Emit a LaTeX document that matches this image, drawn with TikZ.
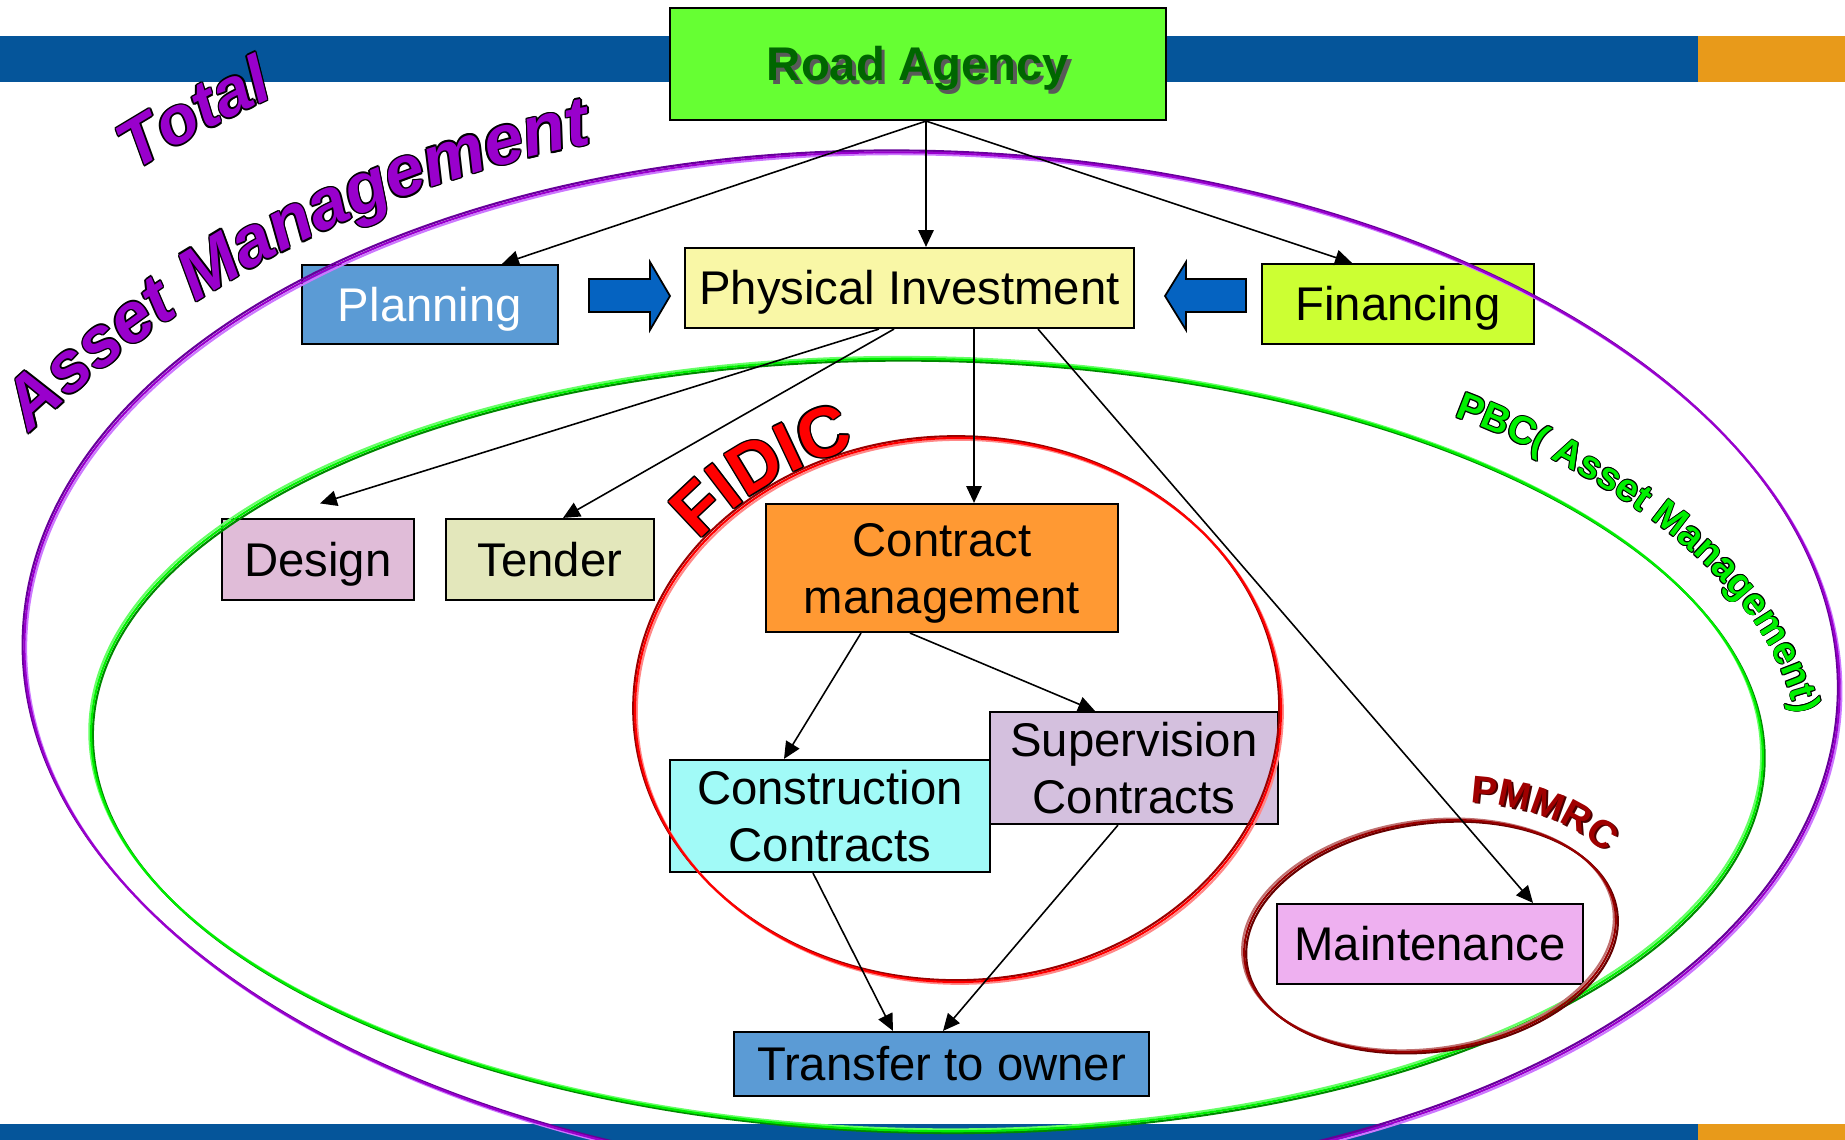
\documentclass[tikz,border=0pt]{standalone}
\usepackage{fontspec}
\setmainfont{Liberation Sans}
\usetikzlibrary{arrows.meta,calc,decorations.text}

\definecolor{barblue}{HTML}{05559A}
\definecolor{barorange}{HTML}{E89A1A}
\definecolor{raGreen}{HTML}{66FF33}
\definecolor{raText}{HTML}{006600}
\definecolor{piYellow}{HTML}{F9F7A6}
\definecolor{planBlue}{HTML}{5B9BD5}
\definecolor{finGreen}{HTML}{CCFF33}
\definecolor{desPink}{HTML}{E0BCD8}
\definecolor{tenOlive}{HTML}{E3E7BB}
\definecolor{cmOrange}{HTML}{FF9933}
\definecolor{supLilac}{HTML}{D4C0DE}
\definecolor{conCyan}{HTML}{A1FAF7}
\definecolor{mntPink}{HTML}{EEB0F0}
\definecolor{arrowBlue}{HTML}{0563C1}
\definecolor{amPurple}{HTML}{9900CC}
\definecolor{purDark}{HTML}{660099}
\definecolor{purLight}{HTML}{CC77FF}
\definecolor{grLight}{HTML}{66FF66}
\definecolor{grMid}{HTML}{00EE00}
\definecolor{grDark}{HTML}{008800}
\definecolor{rdDark}{HTML}{990000}
\definecolor{rdMid}{HTML}{FF0000}
\definecolor{rdLight}{HTML}{FF8888}
\definecolor{pmLight}{HTML}{C07070}
\definecolor{pmMid}{HTML}{990000}
\definecolor{pmDark}{HTML}{660000}
\definecolor{pbcGreen}{HTML}{00F000}
\definecolor{pmText}{HTML}{A00000}
\definecolor{pmShadow}{HTML}{4A0000}

\tikzset{
  box/.style={draw=black, line width=0.6pt, inner sep=0pt, align=center,
    font=\fontsize{13.45}{16.1}\selectfont},
  oneline/.style={text height=9.63pt, text depth=0pt},
  twoline/.style={text height=25.73pt, text depth=0pt},
  conn/.style={draw=black, line width=0.45pt, -{Triangle[length=4.8pt,width=4.4pt]}},
  blockarrow/.style={fill=arrowBlue, draw=black, line width=0.5pt},
  ell/.style={line width=0.6pt},
}

\newcommand\twolines[2]{\begin{tabular}[b]{@{}c@{}}#1\\#2\end{tabular}}

\newcommand\triell[8]{%
  \begin{scope}[rotate around={#5:(#1,#2)}]
    \draw[#6, ell] ({#1-1.8},{#2+1.8}) ellipse[x radius=#3, y radius=#4];
    \draw[#8, ell] ({#1+1.8},{#2-1.8}) ellipse[x radius=#3, y radius=#4];
    \draw[#7, ell] (#1,#2) ellipse[x radius=#3, y radius=#4];
  \end{scope}}

\newcommand\wordart[5]{%
  \foreach \wdx/\wdy in {1/0,-1/0,0/1,0/-1,0.7/0.7,-0.7/0.7,0.7/-0.7,-0.7/-0.7}{%
    \path[#3, shift={({#5*(\wdx)},{#5*(\wdy)})}, decorate,
      decoration={text along path, text align=center, text={|#1\color{black}|#2}}] #4;
  }%
  \path[#3, decorate, decoration={text along path, text align=center, text={|#1|#2}}] #4;
}

\begin{document}
\begin{tikzpicture}[x=0.01cm, y=0.01cm]
\useasboundingbox (0,0) rectangle (1845,-1140);
\clip (0,0) rectangle (1845,-1140);

% bars
\fill[barblue] (0,-36) rectangle (1698,-82);
\fill[barorange] (1698,-36) rectangle (1845,-82);
\fill[barblue] (0,-1124) rectangle (1698,-1140);
\fill[barorange] (1698,-1124) rectangle (1845,-1140);

% boxes
\node[box, oneline, fill=raGreen, minimum width=4.96cm, minimum height=1.12cm] (ra) at (918,-64)
  {\bfseries\makebox[0pt][l]{\hspace{1pt}\raisebox{-1pt}{\color{black!65}Road Agency}}\color{raText}Road Agency};
\node[box, oneline, fill=piYellow, minimum width=4.49cm, minimum height=0.80cm] (pi) at (909.5,-288) {Physical Investment};
\node[box, oneline, fill=planBlue, text=white, minimum width=2.56cm, minimum height=0.79cm] (plan) at (430,-304.5) {Planning};
\node[box, oneline, fill=finGreen, minimum width=2.72cm, minimum height=0.80cm] (fin) at (1398,-304) {Financing};
\node[box, oneline, fill=desPink, minimum width=1.92cm, minimum height=0.81cm] (des) at (318,-559.5) {Design};
\node[box, oneline, fill=tenOlive, minimum width=2.08cm, minimum height=0.81cm] (ten) at (550,-559.5) {Tender};
\node[box, twoline, fill=cmOrange, minimum width=3.52cm, minimum height=1.28cm] (cm) at (942,-568) {\twolines{Contract}{management}};
\node[box, twoline, fill=supLilac, minimum width=2.88cm, minimum height=1.12cm] (sup) at (1134,-768) {\twolines{Supervision}{Contracts}};
\node[box, twoline, fill=conCyan, minimum width=3.20cm, minimum height=1.12cm] (con) at (830,-816) {\twolines{Construction}{Contracts}};
\node[box, oneline, fill=planBlue, minimum width=4.15cm, minimum height=0.64cm] (tr) at (941.5,-1064) {Transfer to owner};
\node[box, oneline, fill=mntPink, minimum width=3.06cm, minimum height=0.80cm] (mnt) at (1430,-944) {Maintenance};

% block arrows
\draw[blockarrow] (589,-279) -- (650,-279) -- (650,-262) -- (670,-296) -- (650,-330) -- (650,-312) -- (589,-312) -- cycle;
\draw[blockarrow] (1246,-279) -- (1186,-279) -- (1186,-262) -- (1165,-296) -- (1186,-330) -- (1186,-312) -- (1246,-312) -- cycle;

% ellipses
\triell{932}{-668}{908}{515}{-2}{purDark}{amPurple}{purLight}
\triell{927}{-745}{836}{386}{-1}{grLight}{grMid}{grDark}
\triell{958}{-710}{323}{272}{0}{rdDark}{rdMid}{rdLight}
\triell{1430}{-936}{187}{114}{8}{pmLight}{pmMid}{pmDark}

% connectors
\draw[conn] ($(ra.south)+(8,0)$) -- ($(plan.north)+(72,0)$);
\draw[conn] ($(ra.south)+(8,0)$) -- ($(pi.north)+(16.5,0)$);
\draw[conn] ($(ra.south)+(8,0)$) -- ($(fin.north)+(-46,0)$);
\draw[conn] ($(pi.south)+(-30.5,0)$) -- ($(des.north)+(2,14.5)$);
\draw[conn] ($(pi.south)+(-15.5,0)$) -- ($(ten.north)+(13,0)$);
\draw[conn] ($(pi.south)+(64.5,0)$) -- ($(cm.north)+(32,0)$);
\draw[conn] ($(pi.south)+(128.5,0)$) -- ($(mnt.north)+(103,0)$);
\draw[conn] ($(cm.south)+(-81,0)$) -- ($(con.north)+(-46,0)$);
\draw[conn] ($(cm.south)+(-32,0)$) -- ($(sup.north)+(-39,0)$);
\draw[conn] ($(con.south)+(-17,0)$) -- ($(tr.north)+(-48.5,0)$);
\draw[conn] ($(sup.south)+(-16,0)$) -- ($(tr.north)+(1.5,0)$);

% word art labels
\wordart{\fontsize{19}{23}\selectfont\bfseries\itshape\color{amPurple}}{Total}{}
  {(802,-1243) ++(128.3:1262) arc[start angle=128.3, end angle=108.3, radius=1262]}{1.6}
\wordart{\fontsize{20}{24}\selectfont\bfseries\itshape\color{amPurple}}{Asset Management}{}
  {(802,-1243) ++(137:1119) arc[start angle=137, end angle=97.4, radius=1119]}{1.6}
\wordart{\fontsize{20}{24}\selectfont\bfseries\color{rdMid}}{FIDIC}{}
  {(958,-710) ++(147:327 and 276) arc[start angle=147, end angle=104, x radius=327, y radius=276]}{1.5}
\wordart{\fontsize{11}{13}\selectfont\bfseries\color{pbcGreen}}{PBC( Asset Management)}{rotate around={-1:(927,-745)}}
  {(927,-745) ++(59:873 and 421) arc[start angle=59, end angle=-4, x radius=873, y radius=421]}{0.9}
% PMMRC with shadow
\path[rotate around={8:(1430,-936)}, shift={(1.8,-1.8)}, decorate,
  decoration={text along path, text align=center, text={|\fontsize{11}{13}\selectfont\bfseries\color{pmShadow}|PMMRC}}]
  (1430,-936) ++(85:205 and 132) arc[start angle=85, end angle=9, x radius=205, y radius=132];
\path[rotate around={8:(1430,-936)}, decorate,
  decoration={text along path, text align=center, text={|\fontsize{11}{13}\selectfont\bfseries\color{pmText}|PMMRC}}]
  (1430,-936) ++(85:205 and 132) arc[start angle=85, end angle=9, x radius=205, y radius=132];
\end{tikzpicture}
\end{document}
